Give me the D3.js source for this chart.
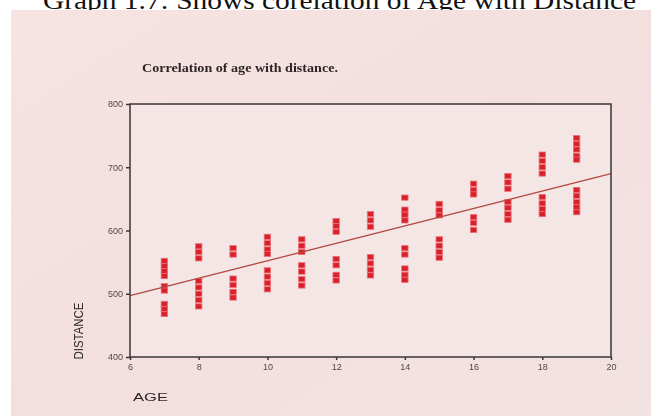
<!DOCTYPE html>
<html>
<head>
<meta charset="utf-8">
<script src="https://cdn.jsdelivr.net/npm/d3@7/dist/d3.min.js"></script>
<style>
  html, body { margin: 0; padding: 0; background: #ffffff; }
  svg { display: block; }
</style>
</head>
<body>
<svg id="chart" width="651" height="416"></svg>
<script>
// Ages on the x axis and the distance readings recorded at each age
const ages = [7, 8, 9, 10, 11, 12, 13, 14, 15, 16, 17, 18, 19];
const distances = [
  [552, 544, 536, 528, 512, 505, 484, 476, 468],
  [575, 566, 556, 520, 510, 500, 490, 480],
  [572, 562, 524, 514, 503, 494],
  [590, 580, 570, 563, 537, 527, 517, 507],
  [586, 576, 566, 545, 535, 523, 513],
  [615, 607, 598, 555, 545, 530, 521],
  [626, 616, 606, 558, 548, 538, 529],
  [652, 633, 625, 616, 572, 562, 540, 530, 522],
  [642, 632, 624, 586, 576, 566, 557],
  [674, 664, 657, 621, 612, 601],
  [686, 676, 666, 645, 636, 626, 617],
  [720, 710, 700, 690, 653, 643, 634, 626],
  [746, 737, 728, 718, 712, 664, 655, 645, 637, 629]
];
// Fitted line: distance at the two ends of the age axis
const fitAges = [6, 20];
const fitDistances = [497, 690];
// Axis ticks
const xTicks = [6, 8, 10, 12, 14, 16, 18, 20];
const yTicks = [400, 500, 600, 700, 800];

const heading = "Graph 1.7: Shows corelation of Age with Distance";
const chartTitle = "Correlation of age with distance.";

const svg = d3.select("#chart");
const defs = svg.append("defs");
defs.append("filter").attr("id", "soft")
  .attr("x", "-5%").attr("y", "-5%").attr("width", "110%").attr("height", "110%")
  .append("feGaussianBlur").attr("stdDeviation", 0.55);
defs.append("filter").attr("id", "ink")
  .attr("x", "-50%").attr("y", "-50%").attr("width", "200%").attr("height", "200%")
  .append("feGaussianBlur").attr("stdDeviation", 0.7);

const paper = defs.append("linearGradient").attr("id", "paper")
  .attr("x1", 0).attr("y1", 0).attr("x2", 1).attr("y2", 1);
paper.append("stop").attr("offset", 0).attr("stop-color", "#f8e3e3");
paper.append("stop").attr("offset", 0.5).attr("stop-color", "#f4dfdf");
paper.append("stop").attr("offset", 1).attr("stop-color", "#f3e2e2");

// Page heading printed above the photographed sheet
svg.append("text")
  .attr("x", 43).attr("y", 9)
  .attr("textLength", 593).attr("lengthAdjust", "spacingAndGlyphs")
  .style("font-family", "'Liberation Serif', 'Times New Roman', serif")
  .style("font-size", "25px")
  .attr("fill", "#111")
  .text(heading);

// Sheet
svg.append("rect")
  .attr("x", 11).attr("y", 10).attr("width", 640).attr("height", 406)
  .attr("fill", "url(#paper)");

const x = d3.scaleLinear().domain([6, 20]).range([130, 611]);
const y = d3.scaleLinear().domain([400, 800]).range([357, 104]);

const g = svg.append("g").attr("filter", "url(#soft)");

// Plot area
g.append("rect")
  .attr("x", x(6)).attr("y", y(800))
  .attr("width", x(20) - x(6)).attr("height", y(400) - y(800))
  .attr("fill", "#f3e6e5");

// Chart title
g.append("text")
  .attr("x", 142).attr("y", 72)
  .attr("textLength", 196).attr("lengthAdjust", "spacingAndGlyphs")
  .style("font-family", "'Liberation Serif', 'Times New Roman', serif")
  .style("font-size", "12px").style("font-weight", "bold")
  .attr("fill", "#2e2828")
  .text(chartTitle);

// Points
const points = ages.flatMap((a, i) => distances[i].map(d => ({ age: a, dist: d })));
g.append("g").attr("filter", "url(#ink)")
  .selectAll("rect").data(points).join("rect")
  .attr("x", d => x(d.age) - 3.2)
  .attr("y", d => y(d.dist) - 2.6)
  .attr("width", 6.4).attr("height", 5.2)
  .attr("fill", "#d8202c")
  .attr("stroke", "#ee6f78").attr("stroke-width", 0.8);

// Fitted line
g.append("line")
  .attr("x1", x(fitAges[0])).attr("y1", y(fitDistances[0]))
  .attr("x2", x(fitAges[1])).attr("y2", y(fitDistances[1]))
  .attr("stroke", "#b4463f").attr("stroke-width", 1.2);

// Frame
g.append("rect")
  .attr("x", x(6)).attr("y", y(800))
  .attr("width", x(20) - x(6)).attr("height", y(400) - y(800))
  .attr("fill", "none").attr("stroke", "#3b3636").attr("stroke-width", 1.5);

// Axes
const yAxis = d3.axisLeft(y).tickValues(yTicks).tickSize(4).tickPadding(3);
const xAxis = d3.axisBottom(x).tickValues(xTicks).tickSize(3).tickPadding(4);

const ya = g.append("g").attr("transform", `translate(${x(6)},0)`).call(yAxis);
const xa = g.append("g").attr("transform", `translate(0,${y(400)})`).call(xAxis);
[ya, xa].forEach(a => {
  a.select(".domain").remove();
  a.selectAll(".tick line").attr("stroke", "#3b3636").attr("stroke-width", 1.5);
  a.selectAll(".tick text")
    .style("font-family", "'Liberation Sans', Arial, sans-serif")
    .style("font-size", "9px")
    .attr("fill", "#4e4848");
});

// Axis titles
g.append("text")
  .attr("transform", "translate(83,331) rotate(-90)")
  .attr("text-anchor", "middle")
  .attr("textLength", 57).attr("lengthAdjust", "spacingAndGlyphs")
  .style("font-family", "'Liberation Sans Narrow', 'Liberation Sans', Arial, sans-serif")
  .style("font-size", "12px")
  .attr("fill", "#2e2828")
  .text("DISTANCE");

g.append("text")
  .attr("x", 133).attr("y", 401)
  .attr("textLength", 35).attr("lengthAdjust", "spacingAndGlyphs")
  .style("font-family", "'Liberation Sans', Arial, sans-serif")
  .style("font-size", "11px")
  .attr("fill", "#2e2828")
  .text("AGE");
</script>
</body>
</html>
